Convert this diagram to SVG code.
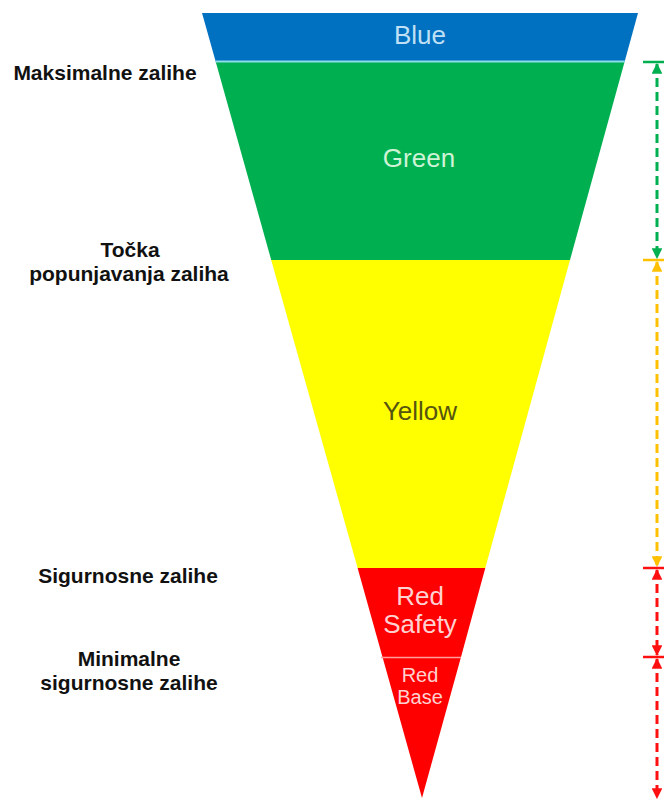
<svg xmlns="http://www.w3.org/2000/svg" width="664" height="800" viewBox="0 0 664 800">
<defs>
<style>
.lbl{font-family:"Liberation Sans",Arial,sans-serif;font-weight:bold;font-size:21px;fill:#111;text-anchor:middle}
.band{font-family:"Liberation Sans",Arial,sans-serif;text-anchor:middle}
.dash{stroke-width:3;stroke-dasharray:9 5;fill:none}
.tick{stroke-width:2.5}
</style>
<marker id="ag" viewBox="0 0 10 10" refX="9" refY="5" markerWidth="3.6" markerHeight="3.6" orient="auto-start-reverse" markerUnits="strokeWidth"><path d="M0,0 L10,5 L0,10 Z" fill="#00B050"/></marker>
<marker id="ay" viewBox="0 0 10 10" refX="9" refY="5" markerWidth="3.6" markerHeight="3.6" orient="auto-start-reverse" markerUnits="strokeWidth"><path d="M0,0 L10,5 L0,10 Z" fill="#FFC000"/></marker>
<marker id="ar" viewBox="0 0 10 10" refX="9" refY="5" markerWidth="3.6" markerHeight="3.6" orient="auto-start-reverse" markerUnits="strokeWidth"><path d="M0,0 L10,5 L0,10 Z" fill="#FF1010"/></marker>
</defs>
<rect width="664" height="800" fill="#fff"/>
<g id="blue">
<polygon points="202,13 638,13 624.8,61 215.5,61" fill="#0070C0"/>
<text class="band" x="420" y="44" font-size="26" fill="#BFE0F5">Blue</text>
</g>
<g id="green">
<polygon points="215.5,61 624.8,61 570,260 271.2,260" fill="#00B050"/>
<line x1="215.5" y1="61.5" x2="624.8" y2="61.5" stroke="#8EDCE6" stroke-width="2"/>
<text class="band" x="419" y="167" font-size="26" fill="#CFF3D6">Green</text>
</g>
<g id="yellow">
<polygon points="271.2,260 570,260 485.3,568 357.6,568" fill="#FFFF00"/>
<text class="band" x="420" y="420" font-size="26" fill="#555510">Yellow</text>
</g>
<g id="redsafety">
<polygon points="357.6,568 485.3,568 461,657 382.5,657" fill="#FF0000"/>
<text class="band" x="420" y="605" font-size="26" fill="#FFD2D2">Red</text>
<text class="band" x="420" y="633" font-size="26" fill="#FFD2D2">Safety</text>
</g>
<g id="redbase">
<polygon points="382.5,657 461,657 422,798" fill="#FF0000"/>
<line x1="381" y1="657.5" x2="461" y2="657.5" stroke="#FF9C9C" stroke-width="1.5"/>
<text class="band" x="420" y="682" font-size="20" fill="#FFD2D2">Red</text>
<text class="band" x="420" y="704" font-size="20" fill="#FFD2D2">Base</text>
</g>
<g id="labels">
<text class="lbl" x="105" y="80">Maksimalne zalihe</text>
<text class="lbl" x="130" y="257">Točka</text>
<text class="lbl" x="129" y="281">popunjavanja zaliha</text>
<text class="lbl" x="128" y="583">Sigurnosne zalihe</text>
<text class="lbl" x="129" y="666">Minimalne</text>
<text class="lbl" x="129" y="690">sigurnosne zalihe</text>
</g>
<g id="connectors">
<line class="tick" x1="643" y1="62" x2="664" y2="62" stroke="#00B050"/>
<path class="dash" d="M657,64 V258" stroke="#00B050" marker-start="url(#ag)" marker-end="url(#ag)"/>
<line class="tick" x1="643" y1="260" x2="664" y2="260" stroke="#FFC000"/>
<path class="dash" d="M657,262 V566" stroke="#FFC000" marker-start="url(#ay)" marker-end="url(#ay)"/>
<line class="tick" x1="643" y1="568" x2="664" y2="568" stroke="#FF1010"/>
<path class="dash" d="M657,570 V655" stroke="#FF1010" marker-start="url(#ar)" marker-end="url(#ar)"/>
<line class="tick" x1="643" y1="657" x2="664" y2="657" stroke="#FF1010"/>
<path class="dash" d="M657,659 V798" stroke="#FF1010" marker-start="url(#ar)" marker-end="url(#ar)"/>
</g>
</svg>
